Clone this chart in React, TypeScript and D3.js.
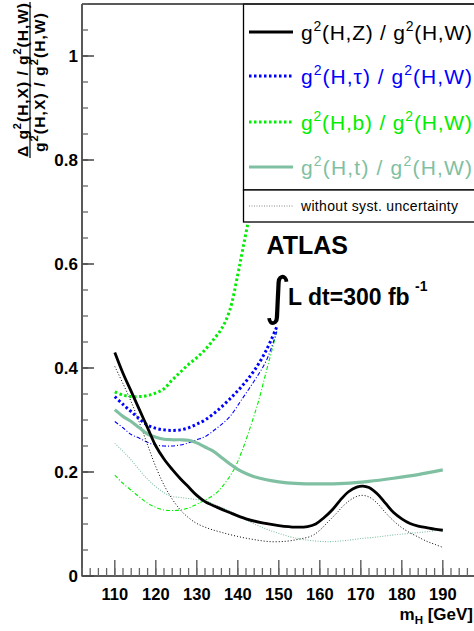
import React from "react";
import * as d3 from "d3";

// ---------- data (mH [GeV], relative uncertainty) ----------
const hzMass = [110, 112, 114, 116, 118, 120, 122, 124, 126, 128, 130, 132, 135, 138, 142, 146, 150, 154, 157, 159, 161, 163, 165, 167, 169, 170.5, 172, 174, 176, 178, 180, 182, 184, 186, 188, 190];
const hzVal = [0.43, 0.39, 0.355, 0.32, 0.285, 0.25, 0.225, 0.205, 0.187, 0.171, 0.155, 0.143, 0.132, 0.122, 0.11, 0.102, 0.097, 0.094, 0.095, 0.1, 0.112, 0.127, 0.146, 0.162, 0.171, 0.173, 0.17, 0.158, 0.14, 0.122, 0.11, 0.101, 0.096, 0.093, 0.09, 0.088];

const hzNoSystMass = [110, 112, 114, 116, 118, 120, 122, 124, 126, 128, 130, 133, 136, 140, 144, 148, 152, 155, 158, 160, 162, 164, 166, 168, 170, 172, 174, 176, 178, 180, 182, 184, 186, 188, 190];
const hzNoSystVal = [0.403, 0.37, 0.335, 0.295, 0.252, 0.21, 0.175, 0.148, 0.127, 0.112, 0.101, 0.091, 0.084, 0.076, 0.07, 0.066, 0.067, 0.071, 0.077, 0.088, 0.104, 0.12, 0.137, 0.149, 0.155, 0.152, 0.14, 0.122, 0.106, 0.093, 0.083, 0.075, 0.067, 0.061, 0.055];

const htauMass = [110, 112, 114, 116, 118, 120, 122, 124, 126, 128, 130, 132, 135, 138, 141, 144, 147, 149.5];
const htauVal = [0.345, 0.33, 0.316, 0.302, 0.29, 0.284, 0.281, 0.28, 0.281, 0.285, 0.292, 0.3, 0.318, 0.34, 0.365, 0.395, 0.435, 0.479];
const htauNoSystVal = [0.297, 0.285, 0.272, 0.265, 0.257, 0.252, 0.25, 0.25, 0.252, 0.256, 0.262, 0.268, 0.285, 0.306, 0.34, 0.375, 0.415, 0.47];

const hbMass = [110, 112, 114, 116, 118, 120, 122, 124, 126, 128, 130, 132, 134, 136, 138, 140, 141, 142, 143, 145, 147, 149, 151];
const hbVal = [0.354, 0.348, 0.345, 0.345, 0.347, 0.352, 0.36, 0.377, 0.392, 0.407, 0.42, 0.435, 0.454, 0.475, 0.51, 0.58, 0.62, 0.66, 0.7, 0.79, 0.89, 1.0, 1.12];

const hbNoSystMass = [110, 112, 114, 116, 118, 120, 122, 124, 126, 128, 130, 132, 134, 136, 139, 141, 143, 145, 147, 149.5];
const hbNoSystVal = [0.194, 0.178, 0.165, 0.152, 0.14, 0.132, 0.127, 0.126, 0.127, 0.131, 0.138, 0.146, 0.155, 0.17, 0.204, 0.24, 0.285, 0.335, 0.395, 0.47];

const htMass = [110, 112, 114, 116, 118, 120, 122, 124, 126, 128, 130, 132, 134, 136, 138, 140, 142, 144, 147, 150, 154, 160, 166, 172, 178, 184, 190];
const htVal = [0.32, 0.307, 0.297, 0.285, 0.273, 0.267, 0.263, 0.262, 0.262, 0.261, 0.256, 0.248, 0.24, 0.228, 0.216, 0.205, 0.197, 0.191, 0.185, 0.181, 0.178, 0.177, 0.178, 0.182, 0.188, 0.195, 0.204];

const htNoSystMass = [110, 112, 114, 116, 118, 120, 122, 124, 126, 128, 130, 132, 135, 138, 141, 144, 147, 150, 154, 158, 162, 166, 170, 174, 178, 182, 186, 190];
const htNoSystVal = [0.255, 0.24, 0.223, 0.204, 0.186, 0.172, 0.16, 0.153, 0.151, 0.149, 0.147, 0.145, 0.135, 0.125, 0.112, 0.1, 0.09, 0.082, 0.073, 0.068, 0.066, 0.068, 0.072, 0.075, 0.079, 0.082, 0.085, 0.089];

const xMajorTicks = [110, 120, 130, 140, 150, 160, 170, 180, 190];
const yMajorTicks = [0, 0.2, 0.4, 0.6, 0.8, 1];
const yTickLabels = ["0", "0.2", "0.4", "0.6", "0.8", "1"];

const legendNames = ["Z", "\u03c4", "b", "t"];

// ---------- layout ----------
const W = 474;
const H = 631;
const FONT = "'Liberation Sans', Arial, Helvetica, sans-serif";
const TEAL = "#80c0a2";
const BLUE = "#0000ff";
const GREEN = "#00ee00";

const x = d3.scaleLinear().domain([102, 198]).range([82, 475.6]);
const y = d3.scaleLinear().domain([0, 1.1]).range([576, 4]);

const lineGen = d3
  .line<[number, number]>()
  .x((d) => x(d[0]))
  .y((d) => y(d[1]))
  .curve(d3.curveCatmullRom.alpha(0.5));

const zip = (a: number[], b: number[]) => a.map((m, i) => [m, b[i]] as [number, number]);

const series = [
  { m: hbNoSystMass, v: hbNoSystVal, color: GREEN, w: 1.1, dash: "4 2 1 2" },
  { m: htauMass, v: htauNoSystVal, color: BLUE, w: 1.1, dash: "4 2 1 2" },
  { m: htNoSystMass, v: htNoSystVal, color: TEAL, w: 1.1, dash: "1 1.5" },
  { m: hzNoSystMass, v: hzNoSystVal, color: "#000", w: 1, dash: "1 2" },
  { m: hbMass, v: hbVal, color: GREEN, w: 3, dash: "2.5 2.5" },
  { m: htauMass, v: htauVal, color: BLUE, w: 3, dash: "2.5 2.5" },
  { m: htMass, v: htVal, color: TEAL, w: 3.2, dash: undefined },
  { m: hzMass, v: hzVal, color: "#000", w: 2.8, dash: undefined },
];

function Ratio({ name, sup = 12, dy = 8 }: { name: string; sup?: number; dy?: number }) {
  return (
    <>
      <tspan>g</tspan>
      <tspan dy={-dy} fontSize={sup}>2</tspan>
      <tspan dy={dy}>{`(H,${name}) / g`}</tspan>
      <tspan dy={-dy} fontSize={sup}>2</tspan>
      <tspan dy={dy}>(H,W)</tspan>
    </>
  );
}

export default function App() {
  const xMinor = d3.range(102, 198.1, 2);
  const yMinor = d3.range(0, 1.101, 0.05);
  const legendColors = ["#000", BLUE, GREEN, TEAL];
  const legendRows = [32, 76, 122, 167];
  const legendLine = [
    { w: 2.8, dash: undefined },
    { w: 3, dash: "2.5 2.5" },
    { w: 3, dash: "2.5 2.5" },
    { w: 3.2, dash: undefined },
  ];
  return (
    <div style={{ position: "absolute", left: 0, top: 0 }}>
      <svg width={W} height={H} style={{ display: "block", background: "#fff" }} fontFamily={FONT}>
        <defs>
          <clipPath id="plotClip">
            <rect x={82} y={4} width={400} height={572} />
          </clipPath>
        </defs>

        {/* curves */}
        <g clipPath="url(#plotClip)">
          {series.map((s, i) => (
            <path
              key={i}
              d={lineGen(zip(s.m, s.v)) || ""}
              fill="none"
              stroke={s.color}
              strokeWidth={s.w}
              strokeDasharray={s.dash}
            />
          ))}
        </g>

        {/* legend */}
        <rect x={243.5} y={4} width={240} height={186} fill="#fff" stroke="#000" strokeWidth={1.3} />
        <rect x={243.5} y={190} width={240} height={32} fill="#fff" stroke="#000" strokeWidth={1.3} />
        {legendNames.map((n, i) => (
          <g key={n}>
            <line
              x1={249}
              x2={293}
              y1={legendRows[i]}
              y2={legendRows[i]}
              stroke={legendColors[i]}
              strokeWidth={legendLine[i].w}
              strokeDasharray={legendLine[i].dash}
            />
            <text
              x={301}
              y={legendRows[i] + 8}
              fontSize={21}
              fill={legendColors[i]}
              textLength={171}
              lengthAdjust="spacing"
            >
              <Ratio name={n} sup={14} dy={9} />
            </text>
          </g>
        ))}
        <line x1={249} x2={293} y1={206} y2={206} stroke="#888" strokeWidth={1} strokeDasharray="1 1.5" />
        <text x={301} y={210.5} fontSize={14} fill="#000" textLength={157} lengthAdjust="spacing">
          without syst. uncertainty
        </text>

        {/* ATLAS label */}
        <text x={266.5} y={253.5} fontSize={25} fontWeight="bold" fill="#000">
          ATLAS
        </text>
        <text x={264} y={314} fontSize={52} fill="#000" fontFamily="'DejaVu Sans', sans-serif">
          {"\u222b"}
        </text>
        <text x={288} y={305} fontSize={23} fontWeight="bold" fill="#000">
          L dt=300 fb
        </text>
        <text x={415} y={291} fontSize={14} fontWeight="bold" fill="#000">
          -1
        </text>

        {/* frame */}
        <line x1={82} x2={482} y1={4} y2={4} stroke="#222" strokeWidth={1.5} />
        <line x1={82} x2={82} y1={4} y2={576.5} stroke="#222" strokeWidth={1.5} />
        <line x1={82} x2={482} y1={576} y2={576} stroke="#222" strokeWidth={1.5} />

        {/* x ticks */}
        {xMinor.map((m) => (
          <line key={"xm" + m} x1={x(m)} x2={x(m)} y1={576} y2={568} stroke="#666" strokeWidth={1.3} />
        ))}
        {xMajorTicks.map((m) => (
          <g key={"xM" + m}>
            <line x1={x(m)} x2={x(m)} y1={576} y2={560} stroke="#666" strokeWidth={1.5} />
            <text x={x(m)} y={600} fontSize={16.5} fontWeight="bold" textAnchor="middle" fill="#000">
              {m}
            </text>
          </g>
        ))}
        <text x={473} y={620} fontSize={17} fontWeight="bold" textAnchor="end" fill="#000">
          m<tspan fontSize={11.5} dy={4}>H</tspan>
          <tspan dy={-4}> [GeV]</tspan>
        </text>

        {/* y ticks */}
        {yMinor.map((v, i) => (
          <line key={"ym" + i} x1={82} x2={88} y1={y(v)} y2={y(v)} stroke="#666" strokeWidth={1.3} />
        ))}
        {yMajorTicks.map((v, i) => (
          <g key={"yM" + v}>
            <line x1={82} x2={94} y1={y(v)} y2={y(v)} stroke="#444" strokeWidth={1.5} />
            <text x={78} y={y(v) + 6} fontSize={17} fontWeight="bold" textAnchor="end" fill="#000">
              {yTickLabels[i]}
            </text>
          </g>
        ))}

        {/* y-axis title (fraction) */}
        <g transform="translate(27.5,80) rotate(-90)">
          <text x={0} y={0} fontSize={15.5} fontWeight="bold" textAnchor="middle" fill="#000" textLength={154} lengthAdjust="spacing">
            <tspan>{"\u0394 "}</tspan>
            <Ratio name="X" sup={11} dy={6.5} />
          </text>
          <line x1={-78} x2={78} y1={2.5} y2={2.5} stroke="#000" strokeWidth={1.2} />
        </g>
        <g transform="translate(44.5,82.5) rotate(-90)">
          <text x={0} y={0} fontSize={15.5} fontWeight="bold" textAnchor="middle" fill="#000" textLength={139} lengthAdjust="spacing">
            <Ratio name="X" sup={11} dy={6.5} />
          </text>
        </g>
      </svg>
    </div>
  );
}
